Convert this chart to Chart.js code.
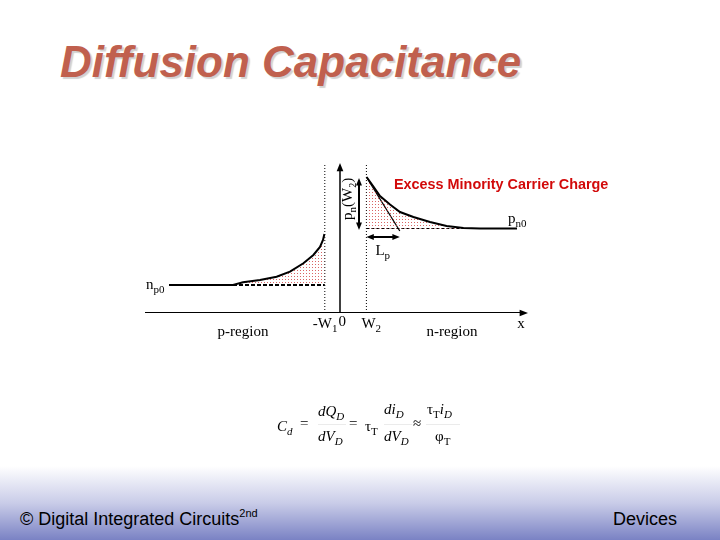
<!DOCTYPE html>
<html>
<head>
<meta charset="utf-8">
<script src="https://cdn.jsdelivr.net/npm/chart.js@4/dist/chart.umd.min.js"></script>
<style>
body{margin:0;width:720px;height:540px;position:relative;overflow:hidden;background:#fff;font-family:"Liberation Sans",Arial,sans-serif}
#title{position:absolute;left:60px;top:37px;font:italic bold 44px "Liberation Sans",Arial,sans-serif;color:#c0604e;text-shadow:2px 2px 1px rgba(0,0,0,0.18);white-space:nowrap}
#foot{position:absolute;left:0;top:466px;width:720px;height:74px;background:linear-gradient(#fff,#c9cce8 50%,#7a82c4)}
.ft{position:absolute;top:509px;font-size:18px;color:#000;white-space:nowrap}
.ft sup{font-size:11px;vertical-align:8px;line-height:0}
#chart{position:absolute;left:0;top:0}
</style>
</head>
<body>
<div id="foot"></div>
<div id="title">Diffusion Capacitance</div>
<div class="ft" style="left:20px">© Digital Integrated Circuits<sup>2nd</sup></div>
<div class="ft" style="left:613px">Devices</div>
<canvas id="chart" width="720" height="540"></canvas>
<script>
// carrier profiles (x in arbitrary length units, y in concentration units)
const pSideX = [-8.55, -5.35, -4.85, -4.0, -3.17, -2.5, -1.83, -1.33, -1.0, -0.85, -0.78];
const pSideY = [2.8, 2.8, 3.07, 3.3, 3.63, 4.13, 4.97, 5.8, 6.6, 7.3, 7.9];
const nSideX = [1.33, 1.67, 2.0, 2.5, 3.0, 3.67, 4.5, 5.33, 6.17, 7.0, 8.85];
const nSideY = [13.6, 12.65, 11.7, 10.85, 10.1, 9.6, 9.1, 8.7, 8.5, 8.45, 8.45];

// junction edges and levels
const negW1 = -0.76;
const W2 = 1.32;
const np0 = 2.8;
const pn0 = 8.45;
const pnW2 = 13.6;
const Lp = 1.67;
const pTailStart = -5.35;
const nTailEnd = 6.2;
const axisX = [-9.75, 9.25];
const axisY = [0, 14.7];
const lineTop = 14.8;

const ctx = document.getElementById('chart').getContext('2d');

// red dotted fill
const pc = document.createElement('canvas');
pc.width = 3; pc.height = 3;
const pg = pc.getContext('2d');
pg.fillStyle = 'rgba(205,50,50,0.75)';
pg.fillRect(0, 0, 1, 1);
const dots = ctx.createPattern(pc, 'repeat');

const pts = (xs, ys) => xs.map((x, i) => ({x: x, y: ys[i]}));

function arrowHead(c, x, y, dx, dy, size) {
  const a = Math.atan2(dy, dx);
  c.beginPath();
  c.moveTo(x, y);
  c.lineTo(x - size * Math.cos(a - 0.38), y - size * Math.sin(a - 0.38));
  c.lineTo(x - size * Math.cos(a + 0.38), y - size * Math.sin(a + 0.38));
  c.closePath();
  c.fill();
}

function subText(c, x, y, main, sub, size, font) {
  c.font = (font || '') + size + 'px "Liberation Serif", "Times New Roman", serif';
  c.fillText(main, x, y);
  const w = c.measureText(main).width;
  c.font = (font || '') + Math.round(size * 0.7) + 'px "Liberation Serif", "Times New Roman", serif';
  c.fillText(sub, x + w, y + 4);
  return x + w + c.measureText(sub).width;
}

const annotations = {
  id: 'annotations',
  afterDraw(chart) {
    const c = chart.ctx;
    const xs = chart.scales.x, ys = chart.scales.y;
    c.save();
    c.fillStyle = '#000';
    c.strokeStyle = '#000';
    c.textBaseline = 'alphabetic';
    // axis arrowheads
    arrowHead(c, xs.getPixelForValue(axisX[1]) + 3, ys.getPixelForValue(0), 1, 0, 9);
    arrowHead(c, xs.getPixelForValue(0), ys.getPixelForValue(axisY[1]) - 3, 0, -1, 9);
    // pn(W2) double arrow
    const ax = xs.getPixelForValue(W2 - 0.37);
    const ay1 = ys.getPixelForValue(pnW2 - 0.1), ay2 = ys.getPixelForValue(pn0 - 0.15);
    arrowHead(c, ax, ay1, 0, -1, 8);
    arrowHead(c, ax, ay2, 0, 1, 8);
    // Lp double arrow
    const ly = ys.getPixelForValue(pn0 - 0.85);
    const lx1 = xs.getPixelForValue(W2), lx2 = xs.getPixelForValue(W2 + Lp);
    arrowHead(c, lx1, ly, -1, 0, 8);
    arrowHead(c, lx2, ly, 1, 0, 8);

    // labels
    subText(c, xs.getPixelForValue(pSideX[0]) - 23, ys.getPixelForValue(np0) + 4, 'n', 'p0', 15);
    subText(c, xs.getPixelForValue(8.4), ys.getPixelForValue(pn0) - 6, 'p', 'n0', 15);
    subText(c, lx1 + 9, ly + 18, 'L', 'p', 15);
    c.save();
    c.translate(ax - 7, ys.getPixelForValue(11.5));
    c.rotate(-Math.PI / 2);
    c.textAlign = 'left';
    let e = subText(c, -22, 0, 'p', 'n', 15);
    c.font = '15px "Liberation Serif", serif';
    c.fillText('(W', e, 0);
    e += c.measureText('(W').width;
    c.font = '10px "Liberation Serif", serif';
    c.fillText('2', e, 4);
    e += c.measureText('2').width;
    c.font = '15px "Liberation Serif", serif';
    c.fillText(')', e, 0);
    c.restore();

    c.font = 'bold 14.4px "Liberation Sans", Arial, sans-serif';
    c.fillStyle = '#d20a0a';
    c.fillText('Excess Minority Carrier Charge', 394, 189);
    c.fillStyle = '#000';

    const by = ys.getPixelForValue(0) + 14;
    c.font = '15px "Liberation Serif", serif';
    c.textAlign = 'center';
    c.fillText('p-region', xs.getPixelForValue(-4.85), by + 9);
    c.fillText('n-region', xs.getPixelForValue(5.6), by + 9);
    c.fillText('x', xs.getPixelForValue(9.05), by + 1);
    c.textAlign = 'left';
    let w = subText(c, xs.getPixelForValue(negW1) - 12, by + 1, '-W', '1', 15);
    c.font = '15px "Liberation Serif", serif';
    c.fillText('0', w + 1, by - 1);
    subText(c, xs.getPixelForValue(W2) - 5, by + 1, 'W', '2', 15);

    // formula
    const f = '"Liberation Serif", "Times New Roman", serif';
    subText(c, 277, 431, 'C', 'd', 15, 'italic ');
    c.font = '15px ' + f;
    c.fillText('=', 300, 428);
    subText(c, 318, 416, 'dQ', 'D', 15, 'italic ');
    subText(c, 318, 441, 'dV', 'D', 15, 'italic ');
    c.font = '15px ' + f;
    c.fillText('=', 349, 428);
    subText(c, 365, 431, '\u03C4', 'T', 15);
    subText(c, 384, 414, 'di', 'D', 15, 'italic ');
    subText(c, 384, 441, 'dV', 'D', 15, 'italic ');
    c.font = '15px ' + f;
    c.fillText('\u2248', 413, 428);
    let t = subText(c, 427, 414, '\u03C4', 'T', 15);
    subText(c, t, 414, 'i', 'D', 15, 'italic ');
    subText(c, 435, 441, '\u03C6', 'T', 15);
    c.strokeStyle = '#ddd';
    c.lineWidth = 0.6;
    c.beginPath();
    c.moveTo(318, 424.5); c.lineTo(346, 424.5);
    c.moveTo(384, 424.5); c.lineTo(412, 424.5);
    c.moveTo(426, 424.5); c.lineTo(460, 424.5);
    c.stroke();
    c.restore();
  }
};

const black = {borderColor: '#000', pointRadius: 0, showLine: true, fill: false};

new Chart(ctx, {
  type: 'scatter',
  data: {
    datasets: [
      Object.assign({}, black, {data: pts(pSideX, pSideY), borderWidth: 2, fill: {value: np0}, backgroundColor: dots}),
      Object.assign({}, black, {data: pts(nSideX, nSideY), borderWidth: 2, fill: {value: pn0}, backgroundColor: dots}),
      Object.assign({}, black, {data: [{x: pTailStart, y: np0}, {x: negW1, y: np0}], borderWidth: 2, borderDash: [4, 2]}),
      Object.assign({}, black, {data: [{x: W2, y: pn0}, {x: nTailEnd, y: pn0}], borderWidth: 1, borderDash: [3, 2]}),
      Object.assign({}, black, {data: [{x: W2, y: pnW2}, {x: W2 + Lp, y: pn0 - 0.25}], borderWidth: 1.3}),
      Object.assign({}, black, {data: [{x: negW1, y: 0}, {x: negW1, y: lineTop}], borderWidth: 1, borderDash: [1, 2]}),
      Object.assign({}, black, {data: [{x: W2, y: 0}, {x: W2, y: lineTop}], borderWidth: 1, borderDash: [1, 2]}),
      Object.assign({}, black, {data: [{x: axisX[0], y: 0}, {x: axisX[1], y: 0}], borderWidth: 2}),
      Object.assign({}, black, {data: [{x: 0, y: 0}, {x: 0, y: axisY[1]}], borderWidth: 1.5}),
      Object.assign({}, black, {data: [{x: W2 - 0.37, y: pnW2 - 0.4}, {x: W2 - 0.37, y: pn0 + 0.2}], borderWidth: 2}),
      Object.assign({}, black, {data: [{x: W2 + 0.2, y: pn0 - 0.85}, {x: W2 + Lp - 0.2, y: pn0 - 0.85}], borderWidth: 2})
    ]
  },
  options: {
    responsive: false,
    animation: false,
    layout: {padding: {left: 145, right: 192, top: 160, bottom: 227}},
    plugins: {legend: {display: false}, tooltip: {enabled: false}},
    scales: {
      x: {type: 'linear', min: -9.75, max: 9.4, display: false},
      y: {type: 'linear', min: 0, max: 15.3, display: false}
    }
  },
  plugins: [annotations]
});
</script>
</body>
</html>
